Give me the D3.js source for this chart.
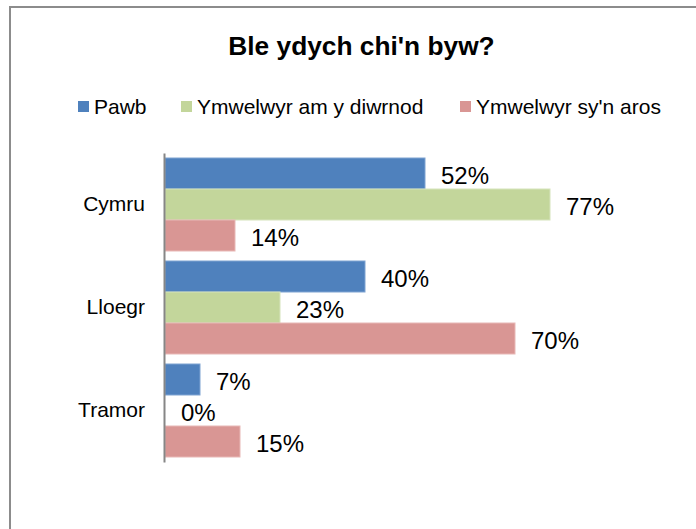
<!DOCTYPE html>
<html>
<head>
<meta charset="utf-8">
<script src="https://cdn.jsdelivr.net/npm/d3@7"></script>
<style>
html,body{margin:0;padding:0;background:#fff;}
svg{display:block;font-family:"Liberation Sans",Arial,sans-serif;}
</style>
</head>
<body>
<svg id="chart" width="696" height="529"></svg>
<script>
const title = "Ble ydych chi'n byw?";
const categories = ["Cymru", "Lloegr", "Tramor"];
const seriesNames = ["Pawb", "Ymwelwyr am y diwrnod", "Ymwelwyr sy'n aros"];
const pawb = [52, 40, 7];
const dydd = [77, 23, 0];
const aros = [14, 70, 15];
const colors = ["#4F81BD", "#C3D69B", "#D99694"];
const strokes = ["#7FA3D2", "#D6E4BC", "#E8B8B6"];

const seriesValues = [pawb, dydd, aros];
const data = [];
categories.forEach((c, i) => {
  seriesNames.forEach((s, j) => {
    data.push({cat: c, series: s, si: j, value: seriesValues[j][i]});
  });
});

const svg = d3.select("#chart");

// frame
svg.append("rect")
  .attr("x", 10).attr("y", 7)
  .attr("width", 700).attr("height", 540)
  .attr("fill", "#fff")
  .attr("stroke", "#8c8c8c")
  .attr("stroke-width", 2);

// title
svg.append("text")
  .attr("x", 361.5).attr("y", 55)
  .attr("text-anchor", "middle")
  .attr("font-weight", "bold")
  .attr("font-size", 26.3)
  .attr("fill", "#000")
  .text(title);

// legend
const legendX = [78, 181, 460];
const legend = svg.append("g");
seriesNames.forEach((s, j) => {
  legend.append("rect")
    .attr("x", legendX[j]).attr("y", 101)
    .attr("width", 11).attr("height", 11)
    .attr("fill", colors[j]);
  legend.append("text")
    .attr("x", legendX[j] + 16).attr("y", 113.5)
    .attr("font-size", 21)
    .attr("fill", "#000")
    .text(s);
});

// scales
const x = d3.scaleLinear().domain([0, 100]).range([165, 665]);
const y = d3.scaleBand().domain(categories).range([153, 462]).paddingInner(0).paddingOuter(0);
const y1 = d3.scaleBand().domain(seriesNames).range([5, y.bandwidth() - 5]);

// bars
const groups = svg.append("g").selectAll("g")
  .data(categories).join("g")
  .attr("transform", d => `translate(0,${y(d)})`);

groups.selectAll("rect")
  .data(c => data.filter(d => d.cat === c && d.value > 0))
  .join("rect")
  .attr("x", x(0))
  .attr("y", d => y1(d.series))
  .attr("width", d => x(d.value) - x(0))
  .attr("height", y1.bandwidth())
  .attr("fill", d => colors[d.si])
  .attr("stroke", d => strokes[d.si])
  .attr("stroke-width", 1);

groups.selectAll("text")
  .data(c => data.filter(d => d.cat === c))
  .join("text")
  .attr("x", d => x(d.value) + 16)
  .attr("y", d => y1(d.series) + y1.bandwidth() / 2 + 10)
  .attr("font-size", 24)
  .attr("fill", "#000")
  .text(d => d.value + "%");

// axis
const axis = svg.append("g")
  .attr("transform", `translate(164,0)`)
  .call(d3.axisLeft(y).tickSize(0).tickPadding(19));
axis.select(".domain").attr("stroke", "#868686").attr("stroke-width", 2);
axis.selectAll(".tick text")
  .attr("font-size", 21)
  .attr("font-family", "Liberation Sans, Arial, sans-serif")
  .attr("fill", "#000");
</script>
</body>
</html>
